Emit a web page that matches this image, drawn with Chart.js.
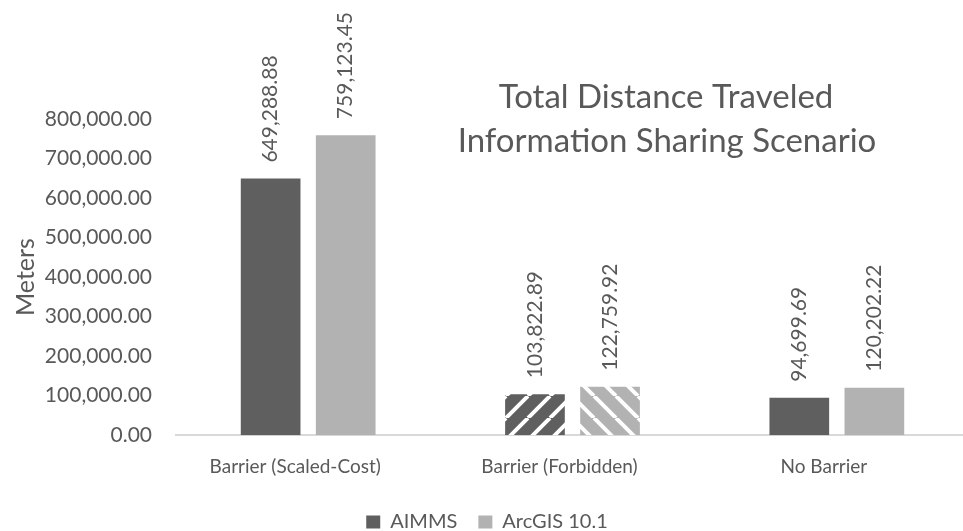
<!DOCTYPE html>
<html>
<head>
    <meta charset="UTF-8">
    <title>Total Distance Traveled</title>
    <script src="https://cdn.jsdelivr.net/npm/chart.js@4.4.1/dist/chart.umd.min.js"></script>
    <style>
        html, body { margin: 0; background: #fff; overflow: hidden; }
        canvas { display: block; }
    </style>
</head>
<body>
    <!-- plot runs a few px past the right edge, like the original -->
    <canvas id="bar-chart" width="969" height="531"></canvas>
<script>
    var categories = ['Barrier (Scaled-Cost)', 'Barrier (Forbidden)', 'No Barrier'];
    var aimms = [649288.88, 103822.89, 94699.69];
    var arcgis = [759123.45, 122759.92, 120202.22];
    var yTicks = [0, 100000, 200000, 300000, 400000, 500000, 600000, 700000, 800000];
    var titleLines = ['Total Distance Traveled', 'Information Sharing Scenario'];

    var FONT = 'Lato, "Open Sans", sans-serif';
    var TEXT = '#595959';
    var DARK = '#5f5f5f';
    var LIGHT = '#b2b2b2';

    function fmt(v) {
        return v.toLocaleString('en-US', { minimumFractionDigits: 2, maximumFractionDigits: 2 });
    }

    // diagonal stripe fill, used for the "Forbidden" bars
    function stripes(color, forward) {
        var p = 22;
        var c = document.createElement('canvas');
        c.width = p; c.height = p;
        var g = c.getContext('2d');
        g.fillStyle = color;
        g.fillRect(0, 0, p, p);
        g.strokeStyle = '#ffffff';
        g.lineWidth = 4;
        g.beginPath();
        for (var k = -1; k <= 1; k++) {
            if (forward) {
                g.moveTo(k * p, p); g.lineTo(k * p + p, 0);
            } else {
                g.moveTo(k * p, 0); g.lineTo(k * p + p, p);
            }
        }
        g.stroke();
        return g.createPattern(c, 'repeat');
    }

    var valueLabels = {
        id: 'valueLabels',
        afterDatasetsDraw: function (chart) {
            var ctx = chart.ctx;
            ctx.save();
            ctx.font = '21px ' + FONT;
            ctx.fillStyle = TEXT;
            ctx.textAlign = 'left';
            ctx.textBaseline = 'middle';
            chart.data.datasets.forEach(function (ds, i) {
                chart.getDatasetMeta(i).data.forEach(function (bar, j) {
                    ctx.save();
                    ctx.translate(bar.x, bar.y - 16);
                    ctx.rotate(-Math.PI / 2);
                    ctx.fillText(fmt(ds.data[j]), 0, 0);
                    ctx.restore();
                });
            });
            ctx.restore();
        }
    };

    var innerTitle = {
        id: 'innerTitle',
        afterDraw: function (chart) {
            var ctx = chart.ctx;
            ctx.save();
            ctx.font = '33px ' + FONT;
            ctx.fillStyle = TEXT;
            ctx.textAlign = 'center';
            ctx.textBaseline = 'alphabetic';
            ctx.fillText(titleLines[0], 666, 108);
            ctx.fillText(titleLines[1], 667, 152);
            ctx.restore();
        }
    };

    // the legend sits a little left of centre in the original
    var legendShift = {
        id: 'legendShift',
        afterLayout: function (chart) {
            chart.legend.left -= 3;
            chart.legend.right -= 3;
        }
    };

    var chart = new Chart(document.getElementById('bar-chart'), {
        type: 'bar',
        data: {
            labels: categories,
            datasets: [{
                label: 'AIMMS',
                data: aimms,
                backgroundColor: [DARK, stripes(DARK, true), DARK],
                categoryPercentage: 0.568,
                barPercentage: 0.795
            }, {
                label: 'ArcGIS 10.1',
                data: arcgis,
                backgroundColor: [LIGHT, stripes(LIGHT, false), LIGHT],
                categoryPercentage: 0.568,
                barPercentage: 0.795
            }]
        },
        options: {
            responsive: false,
            animation: false,
            layout: { padding: { top: 119, right: 0, left: 11, bottom: -11 } },
            plugins: {
                legend: {
                    position: 'bottom',
                    labels: {
                        color: TEXT,
                        font: { size: 20, family: FONT },
                        boxWidth: 14,
                        boxHeight: 13,
                        padding: 21,
                        generateLabels: function (ch) {
                            return ch.data.datasets.map(function (ds, i) {
                                return {
                                    text: ds.label,
                                    fillStyle: i === 0 ? DARK : LIGHT,
                                    strokeStyle: i === 0 ? DARK : LIGHT,
                                    lineWidth: 0,
                                    fontColor: TEXT,
                                    datasetIndex: i
                                };
                            });
                        }
                    }
                },
                tooltip: { enabled: false }
            },
            scales: {
                x: {
                    grid: { display: false },
                    border: { color: '#d9d9d9', width: 2 },
                    ticks: {
                        color: TEXT,
                        font: { size: 19, family: FONT },
                        padding: 12,
                        labelOffset: -13
                    },
                    afterFit: function (axis) {
                        axis.height += 1;
                    }
                },
                y: {
                    min: 0,
                    max: 800000,
                    afterBuildTicks: function (axis) {
                        axis.ticks = yTicks.map(function (v) { return { value: v }; });
                    },
                    grid: { display: false, drawTicks: false },
                    border: { display: false },
                    ticks: {
                        color: TEXT,
                        font: { size: 21, family: FONT },
                        padding: 24,
                        callback: function (v) { return fmt(v); }
                    },
                    title: {
                        display: true,
                        text: 'Meters',
                        color: TEXT,
                        font: { size: 25, family: FONT },
                        padding: { top: 0, bottom: 0 }
                    },
                    afterFit: function (axis) {
                        axis.width = 165;
                    }
                }
            }
        },
        plugins: [valueLabels, innerTitle, legendShift]
    });
</script>
</body>
</html>
